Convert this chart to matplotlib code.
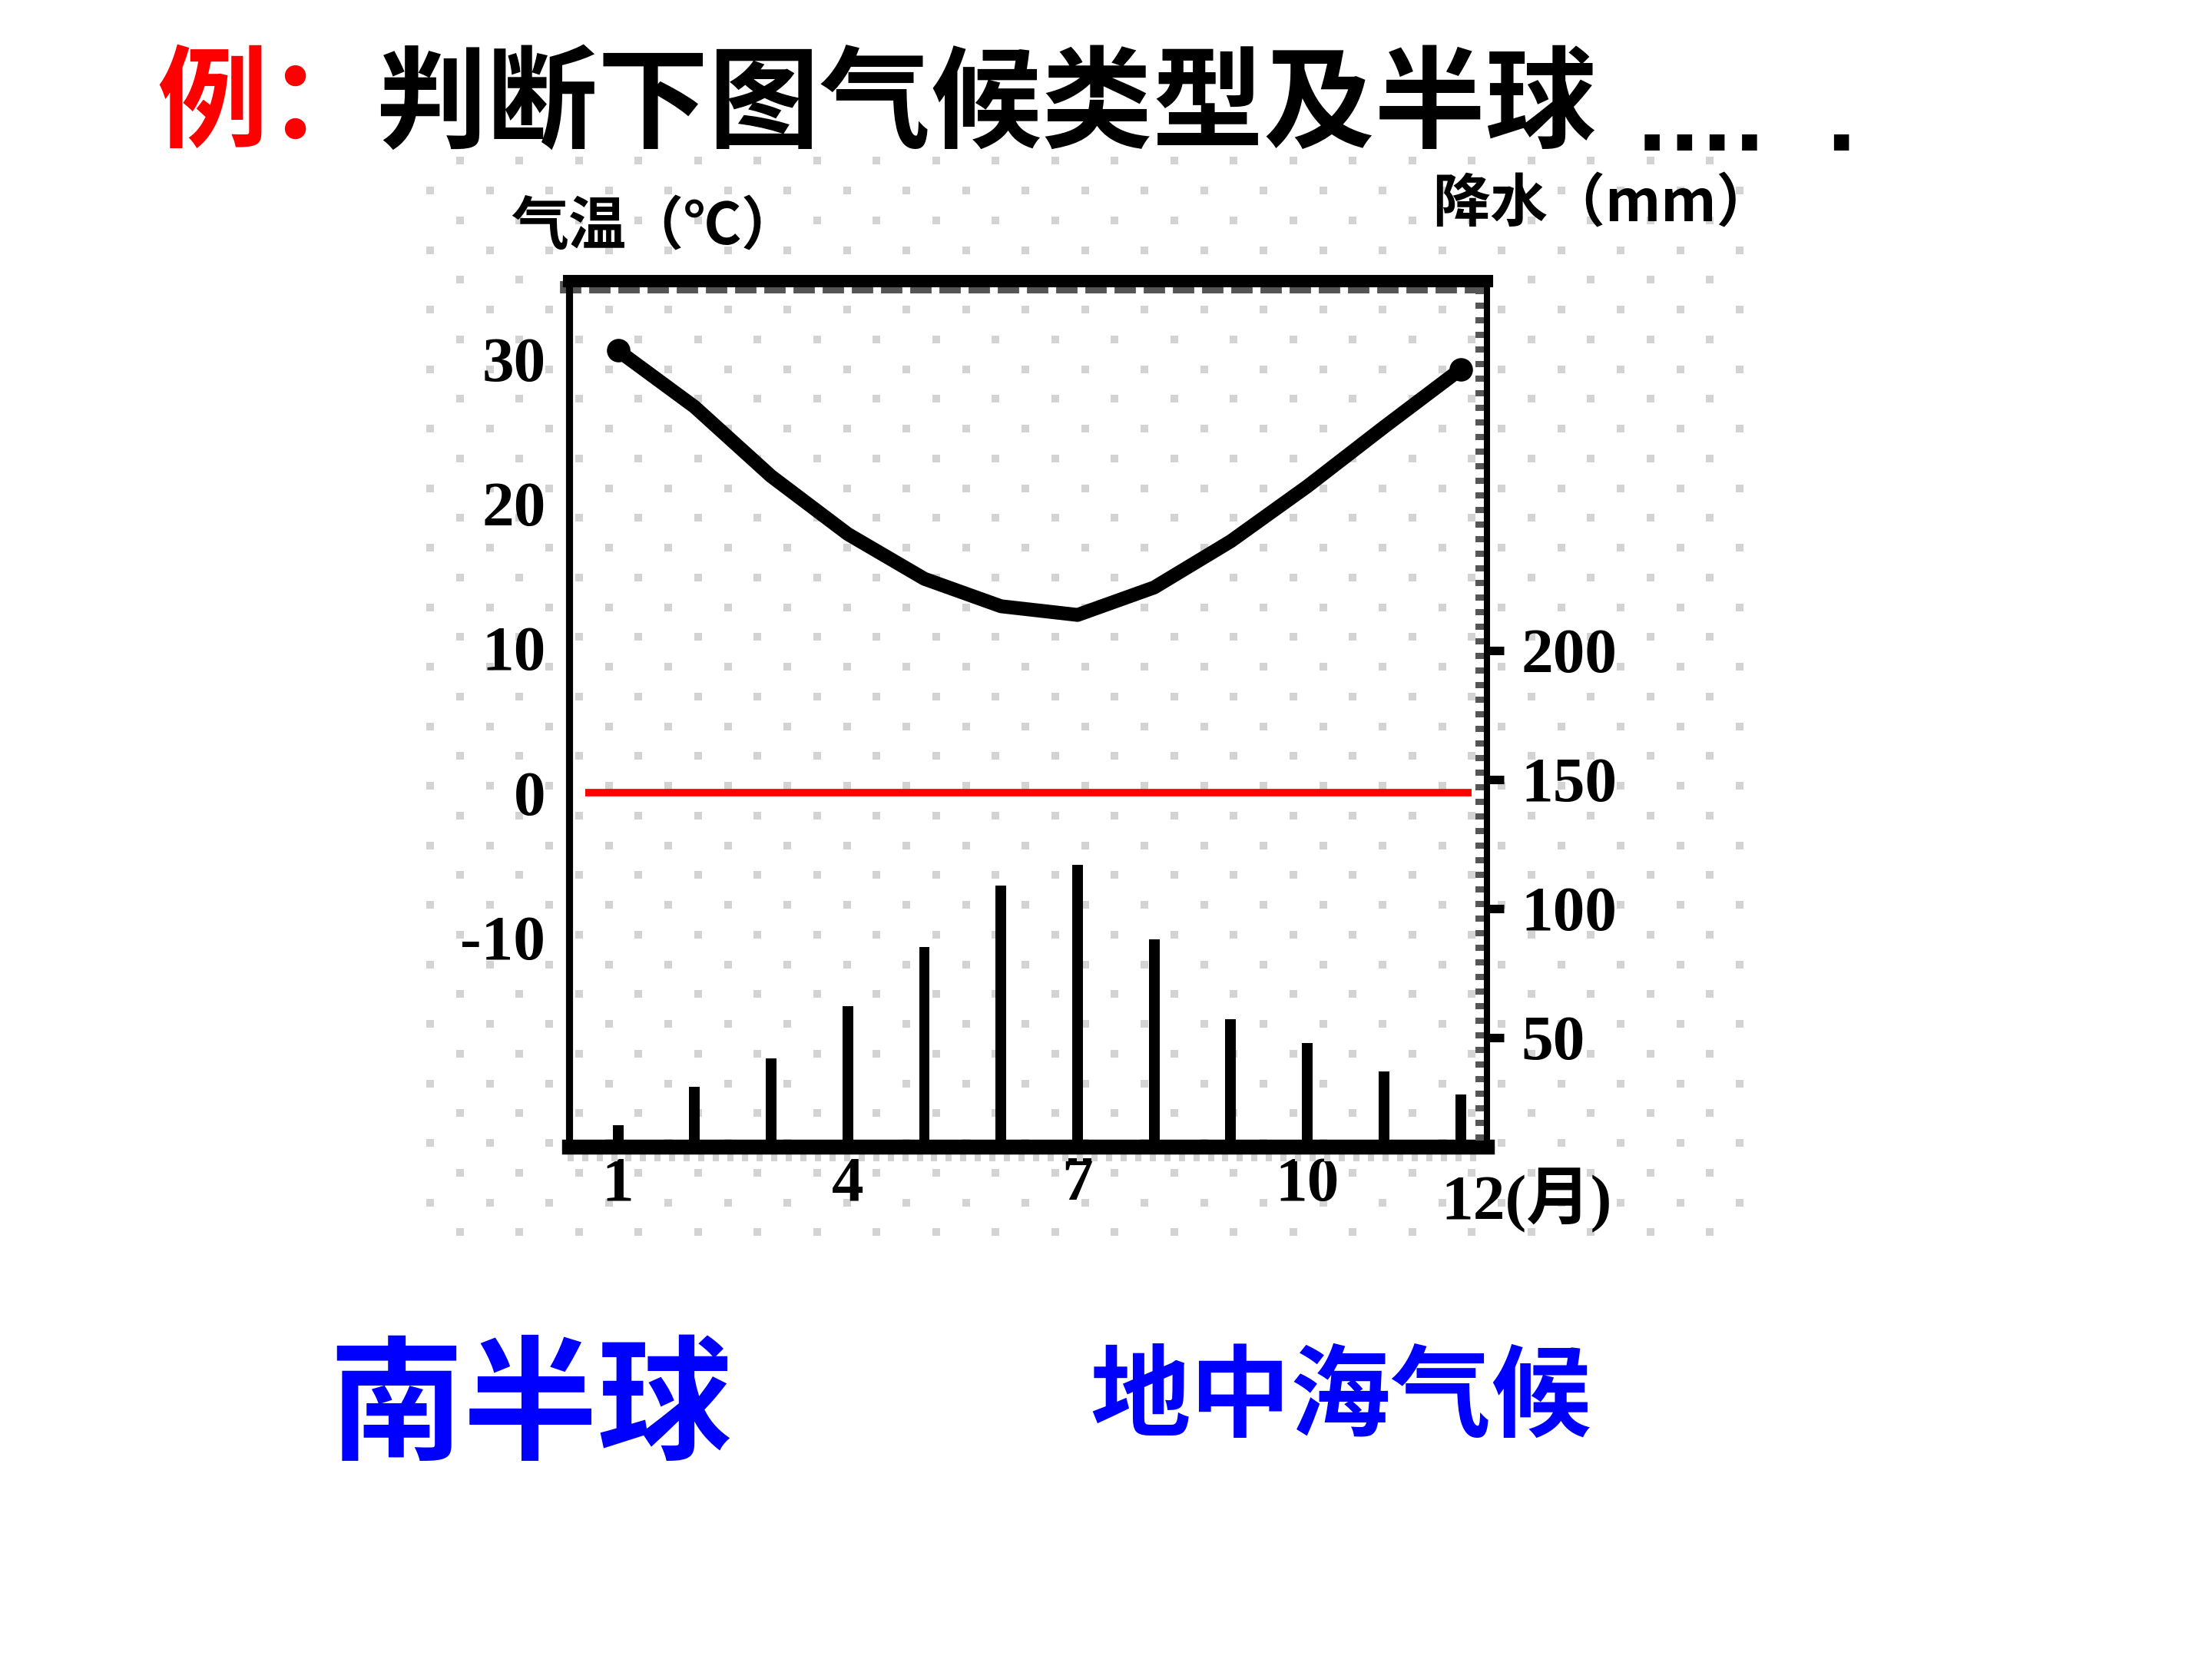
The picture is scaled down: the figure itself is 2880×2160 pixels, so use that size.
import numpy as np
import matplotlib.pyplot as plt
from matplotlib.ticker import MultipleLocator

# climate data
months = np.arange(1, 13)
temperature = [30.6, 26.7, 21.9, 17.9, 14.8, 12.9, 12.3, 14.2, 17.4, 21.2, 25.3, 29.3]
precipitation = [16, 31, 42, 62, 85, 109, 117, 88, 57, 48, 37, 28]
temp_ticks = [30, 20, 10, 0, -10]
rain_ticks = [200, 150, 100, 50]
month_ticks = [1, 4, 7, 10]
month_labels = ['1', '4', '7', '10']

CJK = ['Noto Sans CJK SC', 'DejaVu Sans']
NUM = ['Liberation Serif', 'Noto Sans CJK SC']

W, H = 2880, 2160
fig = plt.figure(figsize=(14.4, 10.8), dpi=200)

# background layer in pixel coordinates, with the grey dot texture
bg = fig.add_axes([0, 0, 1, 1], zorder=0)
bg.set_xlim(0, W)
bg.set_ylim(H, 0)
bg.axis('off')
dx, dy = [], []
for k in range(-21, 16):
    y = 1023 + 38.75 * k
    x0 = 2110 if k % 2 == 0 else 2071.25
    xs = x0 + 77.5 * np.arange(-25, 3)
    xs = xs[(xs >= 550) & (xs <= 2275)]
    dx.extend(xs)
    dy.extend([y] * len(xs))
bg.scatter(dx, dy, marker='s', s=13, color='#d3d3d3', linewidths=0)

# title
bg.text(204, 138, '例：', color='#ff0000', fontsize=52, fontweight='bold',
        family=CJK, ha='left', va='center')
bg.text(489, 138, '判断下图气候类型及半球', color='black', fontsize=52,
        fontweight='bold', family=CJK, ha='left', va='center')
bg.text(2130, 196, '....  .', color='black', fontsize=40, fontweight='bold',
        family=['DejaVu Sans'], ha='left', va='baseline')

# axis titles
bg.text(665, 296, '气温（℃）', fontsize=27, fontweight='bold', family=CJK,
        ha='left', va='center')
bg.text(1865, 267, '降水（mm）', fontsize=27, fontweight='bold', family=CJK,
        ha='left', va='center')
bg.text(1876, 1563, '12(月)', fontsize=30, fontweight='bold', family=NUM,
        ha='left', va='center')

# answers
bg.text(428, 1834, '南半球', color='#0000ff', fontsize=63, fontweight='bold',
        family=CJK, ha='left', va='center')
bg.text(1419, 1822, '地中海气候', color='#0000ff', fontsize=47, fontweight='bold',
        family=CJK, ha='left', va='center')

# main chart
ax = fig.add_axes([741 / W, 1 - 1493 / H, (1936 - 741) / W, (1493 - 366) / H], zorder=2)
ax.patch.set_alpha(0)
ax.plot(months, temperature, color='black', lw=6.5, solid_capstyle='round',
        solid_joinstyle='round', marker='o', markevery=[0, 11], ms=10, zorder=4)
ax.hlines(0, 0.576, 12.14, color='#ff0000', lw=3.5, zorder=3)
ax.set_xlim(0.363, 12.344)
ax.set_ylim(-24.5, 35.4)
ax.set_yticks(temp_ticks)
ax.set_yticklabels([str(t) for t in temp_ticks], family=NUM, fontweight='bold', fontsize=30)
ax.set_xticks(month_ticks)
ax.set_xticklabels(month_labels, family=NUM, fontweight='bold', fontsize=30)
ax.tick_params(axis='y', length=0, pad=11)
ax.tick_params(axis='x', which='major', length=0, pad=4.5)
ax.xaxis.set_minor_locator(MultipleLocator(0.19))
ax.tick_params(axis='x', which='minor', direction='out', length=6.8, width=2.9,
               color='#d3d3d3', bottom=True, top=False)
ax.spines['left'].set_linewidth(3.3)
ax.spines['bottom'].set_linewidth(7)
ax.spines['top'].set_linewidth(5.8)
ax.spines['right'].set_visible(False)

# top border texture
sec = ax.secondary_xaxis('top')
sec.set_xticks([])
sec.xaxis.set_minor_locator(MultipleLocator(0.381))
sec.tick_params(which='minor', direction='in', length=5.8, width=10, color='#555555')
sec.spines['top'].set_visible(False)

# precipitation on the right axis
ax2 = ax.twinx()
ax2.bar(months, precipitation, width=0.14, color='black', zorder=3)
ax2.set_ylim(7.7, 343)
ax2.set_yticks(rain_ticks)
ax2.set_yticklabels([str(r) for r in rain_ticks], family=NUM, fontweight='bold', fontsize=30)
ax2.tick_params(axis='y', which='major', direction='out', length=8, width=4, pad=8)
ax2.yaxis.set_minor_locator(MultipleLocator(5.65))
ax2.tick_params(axis='y', which='minor', direction='in', length=5.4, width=2.9,
                color='#555555')
for side in ['left', 'top', 'bottom']:
    ax2.spines[side].set_visible(False)
ax2.spines['right'].set_linewidth(2.9)

fig.savefig('out.png', dpi=200)
